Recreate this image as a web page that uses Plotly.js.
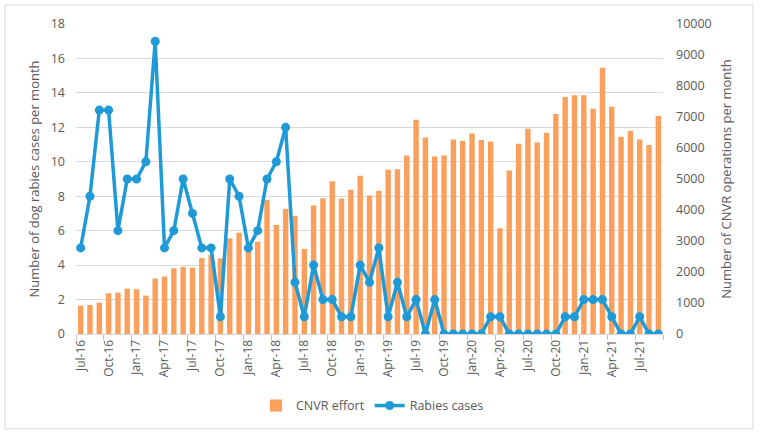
<!DOCTYPE html>
<html>
<head>
<meta charset="utf-8">
<script src="https://cdn.plot.ly/plotly-3.0.1.min.js"></script>
<style>
html,body{margin:0;padding:0;background:#fff;}
#chart{width:760px;height:434px;}
</style>
</head>
<body>
<div id="chart"></div>
<script>
const months = ["Jul-16","Aug-16","Sep-16","Oct-16","Nov-16","Dec-16",
"Jan-17","Feb-17","Mar-17","Apr-17","May-17","Jun-17","Jul-17","Aug-17","Sep-17","Oct-17","Nov-17","Dec-17",
"Jan-18","Feb-18","Mar-18","Apr-18","May-18","Jun-18","Jul-18","Aug-18","Sep-18","Oct-18","Nov-18","Dec-18",
"Jan-19","Feb-19","Mar-19","Apr-19","May-19","Jun-19","Jul-19","Aug-19","Sep-19","Oct-19","Nov-19","Dec-19",
"Jan-20","Feb-20","Mar-20","Apr-20","May-20","Jun-20","Jul-20","Aug-20","Sep-20","Oct-20","Nov-20","Dec-20",
"Jan-21","Feb-21","Mar-21","Apr-21","May-21","Jun-21","Jul-21","Aug-21","Sep-21"];

const cnvrEffort = [915,937,1012,1313,1335,1464,1443,1238,1787,1852,2121,2164,2142,2455,2550,2441,3086,3268,2800,2978,4322,3516,4037,3811,
2745,4145,4382,4931,4371,4651,5103,4468,4619,5297,5318,5760,6912,6341,5728,5760,6277,6223,6470,6255,6212,3413,5275,6137,
6621,6180,6492,7095,7644,7698,7698,7267,8591,7332,6363,6546,6277,6094,7030];

const rabiesCases = [5,8,13,13,6,9,9,10,17,5,6,9,7,5,5,1,9,8,5,6,9,10,12,3,
1,4,2,2,1,1,4,3,5,1,3,1,2,0,2,0,0,0,0,0,1,1,0,0,
0,0,0,0,1,1,2,2,2,1,0,0,1,0,0];

const FONT = "Open Sans, sans-serif";
const GREY = "#595959";

const traces = [
  {
    type: "bar", name: "CNVR effort", x: months, y: cnvrEffort, yaxis: "y",
    marker: {color: "#FA9F5C"}
  },
  {
    type: "scatter", mode: "lines+markers", name: "Rabies cases", x: months, y: rabiesCases, yaxis: "y2",
    line: {color: "#1F9AD6", width: 3.5},
    marker: {color: "#1F9AD6", size: 9}
  }
];

const layout = {
  width: 760, height: 434,
  margin: {l: 76, r: 97, t: 24, b: 100},
  paper_bgcolor: "#fff", plot_bgcolor: "#fff",
  font: {family: FONT, color: GREY, size: 12},
  bargap: 0.42,
  showlegend: true,
  legend: {orientation: "h", x: 0.505, xanchor: "center", y: -0.232, yanchor: "middle",
           font: {family: FONT, size: 12.5, color: GREY}, traceorder: "normal", itemwidth: 30},
  xaxis: {
    type: "category", tickmode: "linear", tick0: 0, dtick: 3, tickangle: -90,
    tickson: "boundaries", ticks: "outside", ticklen: 5, tickcolor: "#BFBFBF",
    showgrid: false, showline: true, linecolor: "#D9D9D9", linewidth: 1,
    tickfont: {family: FONT, size: 12, color: GREY}, automargin: false,
    range: [-0.5, months.length - 0.5]
  },
  yaxis: {
    range: [0, 10000], dtick: 1000, side: "right", tickformat: "d",
    showgrid: false, zeroline: false, showline: false, ticks: "", ticklabelstandoff: 12,
    tickfont: {family: FONT, size: 12.5, color: GREY}, automargin: false,
    title: {text: "Number of CNVR operations per month", font: {family: FONT, size: 13, color: GREY}, standoff: 11}
  },
  yaxis2: {
    range: [0, 18], dtick: 2, overlaying: "y", side: "left",
    showgrid: true, gridcolor: "#D9D9D9", gridwidth: 1,
    zeroline: false, showline: false, ticks: "", ticklabelstandoff: 10,
    tickfont: {family: FONT, size: 12.5, color: GREY}, automargin: false,
    title: {text: "Number of dog rabies cases per month", font: {family: FONT, size: 13, color: GREY}, standoff: 8}
  },
  shapes: [{
    type: "rect", xref: "paper", yref: "paper",
    x0: -0.121, x1: 1.153, y0: -0.306, y1: 1.061,
    line: {color: "#D9D9D9", width: 1}, fillcolor: "rgba(0,0,0,0)", layer: "below"
  }]
};

Plotly.newPlot("chart", traces, layout, {displayModeBar: false, staticPlot: true});
</script>
</body>
</html>
